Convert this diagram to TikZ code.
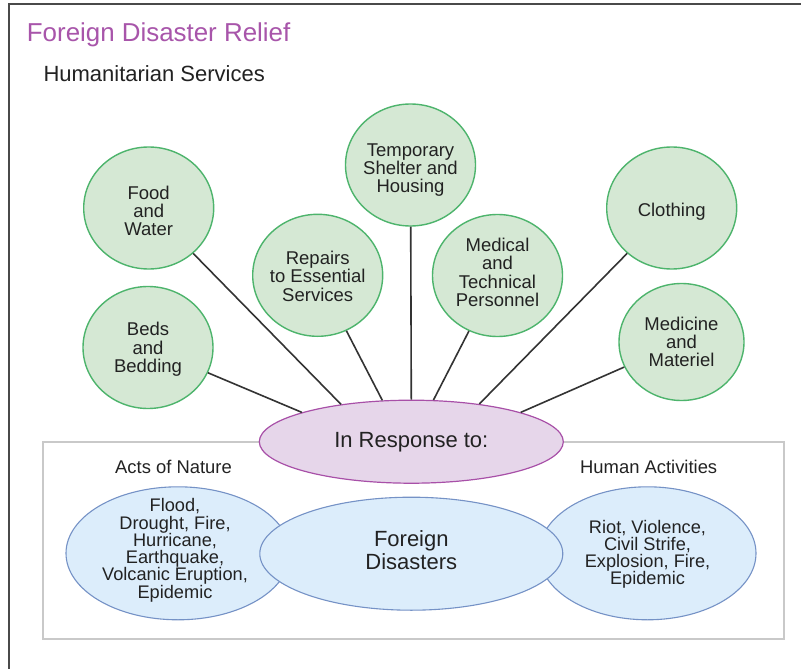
\documentclass[tikz,border=0pt]{standalone}
\usepackage{fontspec}
\setmainfont{Liberation Sans}
\usetikzlibrary{shapes.geometric}
\definecolor{grfill}{HTML}{D5E8D4}
\definecolor{grline}{HTML}{4DB46C}
\definecolor{pufill}{HTML}{E6D6EA}
\definecolor{puline}{HTML}{A850A8}
\definecolor{blfill}{HTML}{DCEDFB}
\definecolor{blline}{HTML}{7592C6}
\definecolor{ttl}{HTML}{A855AA}
\definecolor{txt}{HTML}{222222}
\definecolor{boxgray}{HTML}{C9C9C9}
\definecolor{framegray}{HTML}{4A4A4A}
\definecolor{conn}{HTML}{333333}
\begin{document}
\begin{tikzpicture}[x=1pt,y=-1pt,
  svc/.style={ellipse, draw=grline, fill=grfill, line width=1.4pt,
    minimum width=130pt, minimum height=122pt, inner sep=0pt},
  lbl/.style={align=center, inner sep=0pt, text=txt,
    font=\fontsize{18.5}{18.3}\selectfont},
  lst/.style={align=center, inner sep=0pt, text=txt,
    font=\fontsize{18.2}{17.3}\selectfont},
  disaster/.style={ellipse, draw=blline, fill=blfill, line width=1.1pt, inner sep=0pt},
  link/.style={draw=conn, line width=1.6pt}]
\useasboundingbox (0,0) rectangle (801,669);
\fill[white] (0,0) rectangle (801,669);
% outer frame
\draw[framegray, line width=2.2pt] (9,4) rectangle (830,700);
% titles
\node[anchor=base west, inner sep=0pt, text=ttl, font=\fontsize{25.9}{30}\selectfont] (title) at (26.7,41.7) {Foreign Disaster Relief};
\node[anchor=base west, inner sep=0pt, text=txt, font=\fontsize{22}{26}\selectfont] (sub) at (43.3,81.7) {Humanitarian Services};
% inner box
\draw[boxgray, line width=1.8pt] (42.7,442.3) rectangle (784.3,639.3);
% central ellipse
\node[ellipse, draw=puline, fill=pufill, line width=1.2pt, minimum width=304pt, minimum height=83pt, inner sep=0pt] (resp) at (411.3,441.7) {};
\node[lbl, font=\fontsize{22}{26}\selectfont] (resptext) at ([yshift=-1pt]resp.center) {In Response to:};
% service circles
\node[svc] (food) at (148.7,208) {};
\node[svc] (beds) at (148,347.5) {};
\node[svc] (repairs) at (317.7,275.3) {};
\node[svc] (shelter) at (410.5,165) {};
\node[svc] (medical) at (497.5,275.5) {};
\node[svc] (clothing) at (671.7,208) {};
\node[svc, minimum width=125pt, minimum height=117pt] (medicine) at (681.5,342) {};
\node[lbl] (foodt) at ([yshift=-3pt]food.center) {Food\\and\\Water};
\node[lbl] (bedst) at ([yshift=-2pt]beds.center) {Beds\\and\\Bedding};
\node[lbl] (repairst) at ([yshift=-1pt]repairs.center) {Repairs\\to Essential\\Services};
\node[lbl] (sheltert) at ([yshift=-5pt]shelter.center) {Temporary\\Shelter and\\Housing};
\node[lbl] (medicalt) at ([yshift=3pt]medical.center) {Medical\\and\\Technical\\Personnel};
\node[lbl] (clothingt) at ([yshift=-4pt]clothing.center) {Clothing};
\node[lbl] (medicinet) at (medicine.center) {Medicine\\and\\Materiel};
% connectors
\path[link] (beds) -- (resp.165.7);
\path[link] (food) -- (resp.152.8);
\path[link] (repairs) -- (resp.125.4);
\path[link] (shelter) -- (resp.90);
\path[link] (medical) -- (resp.62.2);
\path[link] (clothing) -- (resp.29.8);
\path[link] (medicine) -- (resp.15);
% group labels
\node[anchor=base west, inner sep=0pt, text=txt, font=\fontsize{18.4}{20}\selectfont] (acts) at (115,473.3) {Acts of Nature};
\node[anchor=base west, inner sep=0pt, text=txt, font=\fontsize{18.4}{20}\selectfont] (human) at (580,473.3) {Human Activities};
% disaster ellipses
\node[disaster, minimum width=224pt, minimum height=133pt] (nature) at (178,553.3) {};
\node[disaster, minimum width=217pt, minimum height=133pt] (humanact) at (647.5,553.3) {};
\node[disaster, minimum width=303pt, minimum height=113pt] (foreign) at (411.3,553.7) {};
\node[lst] (naturet) at ([xshift=-3pt,yshift=3pt]nature.center) {Flood,\\Drought, Fire,\\Hurricane,\\Earthquake,\\Volcanic Eruption,\\Epidemic};
\node[lst] (humant) at ([yshift=-1pt]humanact.center) {Riot, Violence,\\Civil Strife,\\Explosion, Fire,\\Epidemic};
\node[lbl, font=\fontsize{22}{23}\selectfont] (foreignt) at ([yshift=4pt]foreign.center) {Foreign\\Disasters};
\end{tikzpicture}
\end{document}
